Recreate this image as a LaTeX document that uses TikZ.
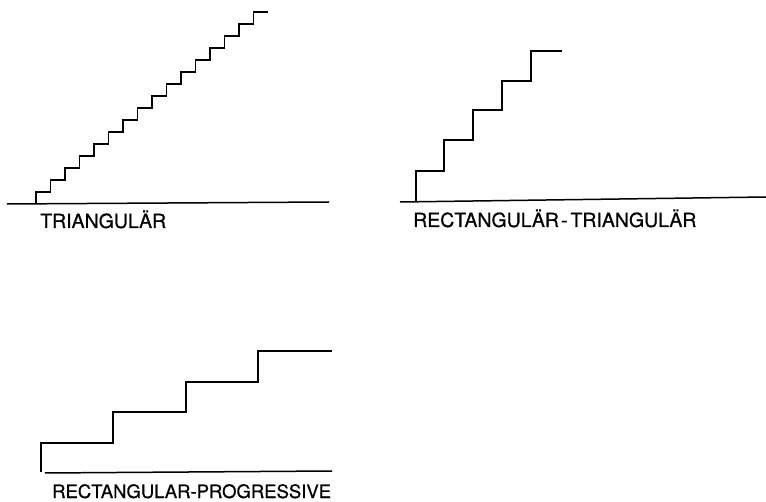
\documentclass[tikz,border=0pt]{standalone}
\usepackage{fontspec}
\setmainfont{TeX Gyre Heros}
\newfontfamily\lblfont{TeX Gyre Heros}[FakeBold=0.6]
\tikzset{stair/.style={line width=1.3pt},
  ground/.style={line width=1.5pt},
  lbl/.style={anchor=base west,inner sep=0pt,font=\lblfont\fontsize{19.5}{21}\selectfont}}
\begin{document}
\begin{tikzpicture}[x=1pt,y=-1pt]
\useasboundingbox(0,0)rectangle(766,502);
% triangular
\draw[ground](7,204)--(329,202);
\draw[stair](36,204)\foreach\i in{1,...,16}{--++(0,-12)--++(14.5,0)};
\node[lbl](tri)at(40,228){TRIANGULÄR};
% rectangular-triangular
\draw[ground](400,202)--(766,197);
\draw[stair](416,202)--(416,171)--(444,171)--(444,140)--(473,140)--(473,110)
  --(502,110)--(502,81)--(531,81)--(531,51)--(562,51);
\node[lbl](rectri)at(413,227){RECTANGULÄR\hspace{2pt}-\hspace{3pt}TRIANGULÄR};
% rectangular-progressive
\draw[ground](45,473)--(332,471);
\draw[stair](41,472)--(41,443)--(113,443)--(113,412)--(186,412)--(186,382)
  --(258,382)--(258,351)--(332,351);
\node[lbl,font=\lblfont\fontsize{18.5}{20}\selectfont](recprog)at(52,498){RECTANGULAR-PROGRESSIVE};
\end{tikzpicture}
\end{document}
